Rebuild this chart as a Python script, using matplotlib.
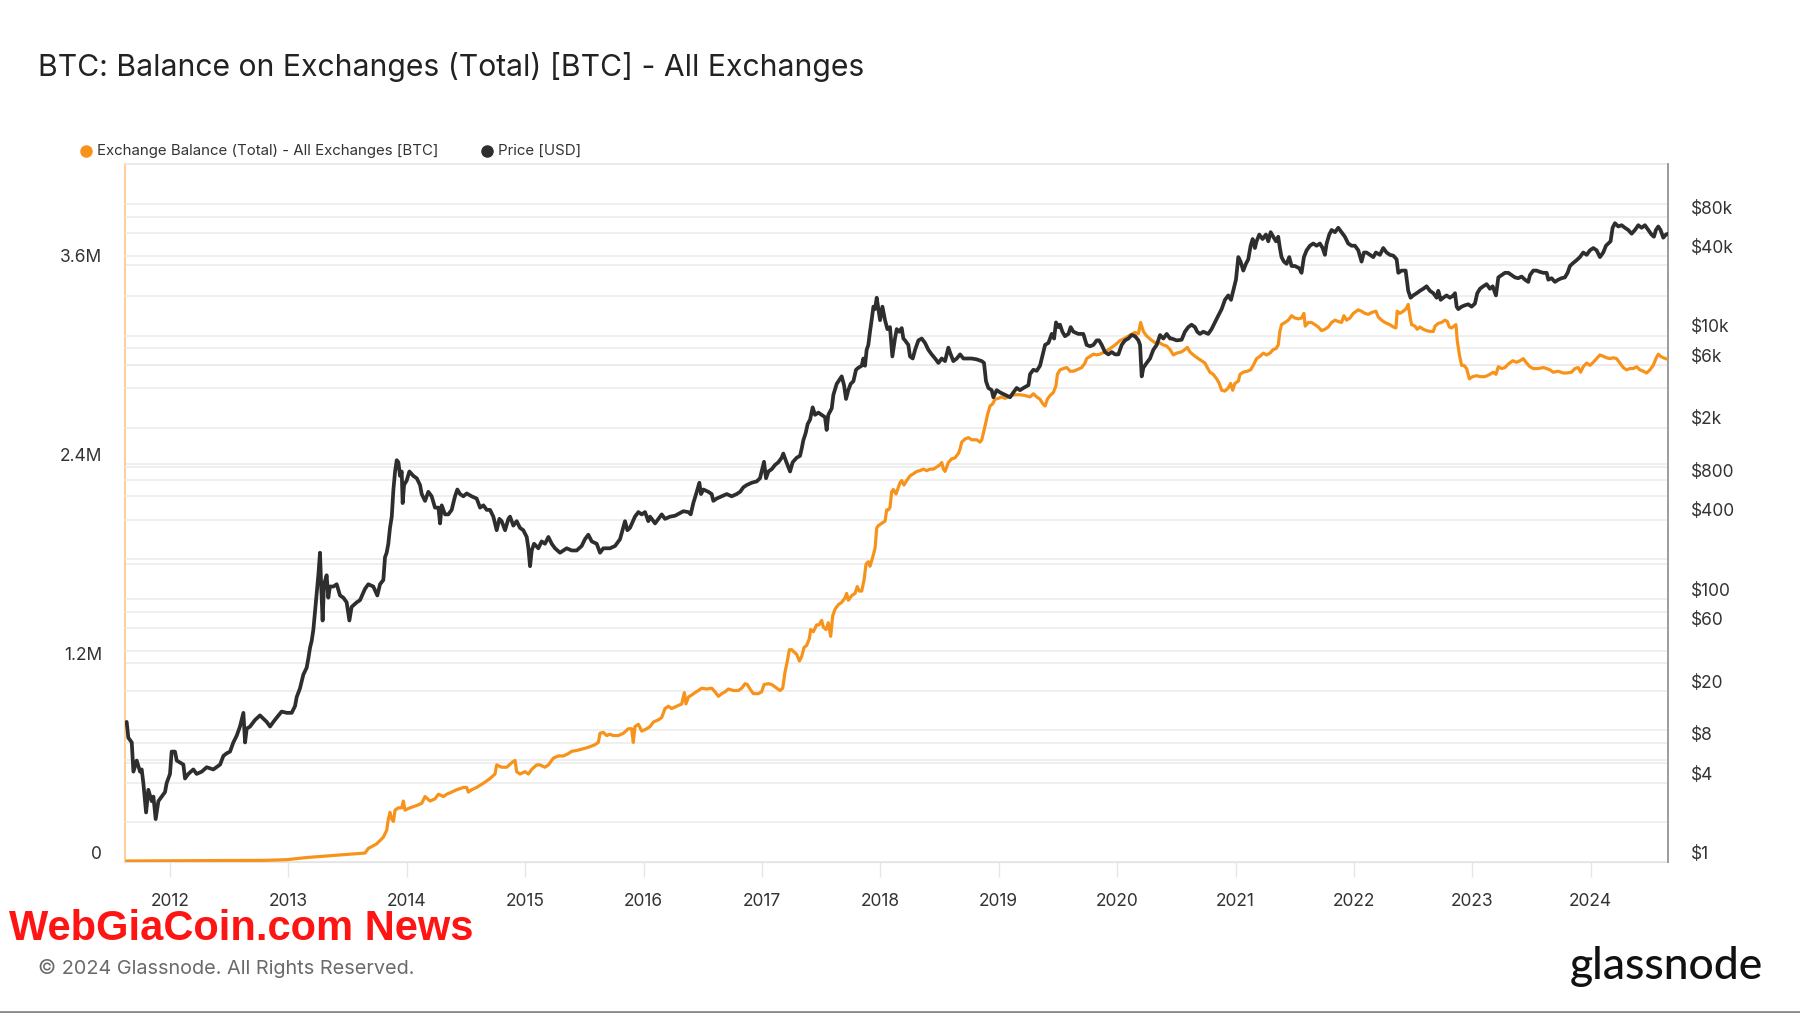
import numpy as np
import matplotlib
matplotlib.use("Agg")
import matplotlib.pyplot as plt
from matplotlib.lines import Line2D

plt.rcParams['font.family'] = ['Inter', 'DejaVu Sans']

# ---------------- data (decimal year, value) ----------------
price_2011_13 = [
    (2011.634, 11.6), (2011.648, 8.8), (2011.677, 8.1), (2011.691, 4.86), (2011.719, 5.9), (2011.747, 4.86),
    (2011.761, 5.05), (2011.775, 3.98), (2011.798, 2.38), (2011.817, 3.54), (2011.845, 2.9), (2011.860, 3.14),
    (2011.879, 2.12), (2011.902, 2.9), (2011.930, 3.14), (2011.958, 3.4), (2011.972, 3.98), (2012.000, 4.67),
    (2012.014, 6.9), (2012.042, 6.9), (2012.057, 5.9), (2012.085, 5.7), (2012.113, 5.5), (2012.127, 4.31),
    (2012.155, 4.67), (2012.197, 5.05), (2012.225, 4.67), (2012.268, 4.86), (2012.310, 5.25), (2012.366, 5.05),
    (2012.423, 5.5), (2012.451, 6.4), (2012.479, 6.7), (2012.507, 6.9), (2012.535, 8.1), (2012.563, 9.1),
    (2012.591, 10.7), (2012.620, 13.6), (2012.634, 8.1), (2012.648, 10.3), (2012.676, 10.7), (2012.718, 12.0),
    (2012.760, 13.0), (2012.817, 11.6), (2012.845, 10.7), (2012.873, 11.6), (2012.901, 12.5), (2012.943, 13.9),
    (2012.986, 13.6), (2013.028, 13.6), (2013.056, 15.3), (2013.070, 17.9), (2013.098, 20.9), (2013.112, 23.6),
    (2013.126, 26.5), (2013.154, 29.9), (2013.168, 35), (2013.183, 42.6), (2013.197, 48), (2013.211, 58.4),
    (2013.225, 80), (2013.239, 110), (2013.253, 151), (2013.267, 224), (2013.275, 139), (2013.289, 68.4),
    (2013.301, 129), (2013.323, 151), (2013.337, 102), (2013.351, 124), (2013.380, 124), (2013.408, 129),
    (2013.436, 106), (2013.464, 102), (2013.492, 94), (2013.515, 68.4), (2013.534, 86.8), (2013.577, 94),
    (2013.605, 97.7), (2013.647, 119), (2013.675, 129), (2013.717, 124), (2013.751, 106), (2013.774, 129),
    (2013.802, 139), (2013.816, 207), (2013.830, 224), (2013.844, 262), (2013.858, 346),
]
price_2014_15 = [
    (2013.873, 421), (2013.887, 677), (2013.901, 928), (2013.915, 1130), (2013.929, 1090), (2013.943, 858),
    (2013.957, 928), (2013.965, 534), (2013.977, 732), (2013.999, 792), (2014.022, 928), (2014.056, 858),
    (2014.084, 824), (2014.112, 732), (2014.126, 625), (2014.154, 555), (2014.182, 650), (2014.210, 601),
    (2014.238, 493), (2014.267, 493), (2014.281, 374), (2014.295, 513), (2014.323, 438), (2014.351, 438),
    (2014.379, 474), (2014.407, 601), (2014.427, 677), (2014.450, 625), (2014.478, 601), (2014.506, 632),
    (2014.548, 601), (2014.590, 578), (2014.619, 493), (2014.647, 513), (2014.675, 474), (2014.703, 474),
    (2014.731, 421), (2014.759, 332), (2014.782, 405), (2014.801, 389), (2014.830, 332), (2014.858, 405),
    (2014.872, 421), (2014.900, 360), (2014.928, 389), (2014.956, 346), (2014.984, 332), (2015.013, 295),
    (2015.027, 242), (2015.041, 177), (2015.055, 233), (2015.075, 262), (2015.111, 242), (2015.139, 273),
    (2015.167, 262), (2015.196, 295), (2015.224, 262), (2015.252, 242), (2015.294, 224), (2015.350, 242),
    (2015.393, 233), (2015.435, 233), (2015.477, 252), (2015.505, 284), (2015.533, 307), (2015.562, 273),
    (2015.604, 262), (2015.632, 224), (2015.660, 242), (2015.716, 242), (2015.759, 252), (2015.801, 284),
    (2015.843, 389), (2015.863, 332), (2015.885, 346), (2015.927, 421), (2015.956, 456), (2015.984, 438),
    (2016.012, 456), (2016.040, 389), (2016.054, 421),
]
price_2016_17 = [
    (2016.069, 405), (2016.097, 374), (2016.125, 405), (2016.153, 438), (2016.181, 405), (2016.223, 421),
    (2016.266, 428), (2016.308, 449), (2016.336, 463), (2016.378, 456), (2016.398, 438), (2016.420, 534),
    (2016.449, 650), (2016.471, 762), (2016.485, 625), (2016.505, 677), (2016.547, 650), (2016.575, 625),
    (2016.589, 555), (2016.617, 578), (2016.660, 601), (2016.702, 625), (2016.744, 601), (2016.786, 625),
    (2016.815, 650), (2016.843, 704), (2016.871, 732), (2016.913, 762), (2016.955, 780), (2016.983, 824),
    (2016.997, 928), (2017.017, 1100), (2017.034, 824), (2017.054, 928), (2017.082, 966), (2017.110, 1040),
    (2017.138, 1090), (2017.166, 1180), (2017.180, 1270), (2017.200, 1130), (2017.223, 1000), (2017.237, 928),
    (2017.259, 1090), (2017.293, 1180), (2017.321, 1220), (2017.335, 1380), (2017.349, 1600), (2017.369, 1820),
    (2017.386, 2130), (2017.406, 2300), (2017.428, 2850), (2017.448, 2500), (2017.476, 2600), (2017.504, 2500),
    (2017.532, 2400), (2017.546, 1920), (2017.560, 2500), (2017.589, 2800), (2017.603, 3550), (2017.631, 4300),
    (2017.659, 4700), (2017.673, 4900), (2017.693, 4200), (2017.710, 3300), (2017.729, 3850), (2017.749, 4300),
    (2017.772, 4500), (2017.794, 5500), (2017.814, 5700), (2017.842, 5900), (2017.856, 6700), (2017.870, 5900),
    (2017.884, 7800), (2017.898, 8500), (2017.912, 10700), (2017.926, 13100), (2017.941, 16600), (2017.955, 15900),
    (2017.969, 19400), (2017.983, 15900), (2017.997, 13100), (2018.017, 16600), (2018.039, 13100), (2018.059, 11200),
    (2018.081, 11600), (2018.101, 6950), (2018.123, 9500), (2018.138, 11200), (2018.160, 10700), (2018.180, 11400),
    (2018.194, 9500), (2018.208, 9200), (2018.236, 8500), (2018.250, 6950),
]
price_2018_19 = [
    (2018.273, 6700), (2018.293, 7800), (2018.321, 9200), (2018.349, 9500), (2018.377, 8800), (2018.405, 7800),
    (2018.433, 7200), (2018.462, 6700), (2018.490, 6200), (2018.518, 6700), (2018.546, 6400), (2018.574, 8100),
    (2018.594, 7200), (2018.616, 6400), (2018.645, 6700), (2018.673, 7200), (2018.701, 6700), (2018.729, 6700),
    (2018.771, 6700), (2018.813, 6600), (2018.856, 6400), (2018.875, 6200), (2018.892, 4500), (2018.912, 4000),
    (2018.940, 3850), (2018.954, 3400), (2018.982, 3850), (2019.011, 3700), (2019.053, 3550), (2019.095, 3400),
    (2019.123, 3700), (2019.151, 4000), (2019.179, 3850), (2019.208, 4000), (2019.250, 4200), (2019.264, 5100),
    (2019.292, 5500), (2019.320, 5400), (2019.348, 5900), (2019.371, 7200), (2019.391, 8500), (2019.419, 8800),
    (2019.447, 10300), (2019.467, 9500), (2019.483, 12600), (2019.503, 11600), (2019.517, 12100), (2019.537, 10700),
    (2019.559, 9900), (2019.588, 10300), (2019.607, 11600), (2019.630, 10700), (2019.672, 10300), (2019.714, 10300),
    (2019.742, 8500), (2019.771, 8300), (2019.799, 8500), (2019.827, 9200), (2019.847, 9200), (2019.869, 8500),
    (2019.897, 7500), (2019.925, 7200), (2019.954, 7500), (2019.982, 7200), (2020.010, 7200), (2020.038, 8500),
    (2020.066, 9200), (2020.094, 9500), (2020.122, 10100), (2020.151, 9900), (2020.179, 9200), (2020.193, 8500),
    (2020.207, 4900), (2020.221, 5700), (2020.249, 6200), (2020.277, 6700), (2020.305, 7800), (2020.334, 8500),
    (2020.362, 10100), (2020.390, 9500), (2020.418, 10300), (2020.446, 9500),
]
price_2020_21 = [
    (2020.460, 9500), (2020.502, 9200), (2020.544, 9300), (2020.572, 10700), (2020.600, 11600), (2020.628, 12100),
    (2020.657, 11600), (2020.676, 10700), (2020.699, 10300), (2020.727, 10700), (2020.769, 10300), (2020.797, 11200),
    (2020.825, 12600), (2020.854, 14200), (2020.882, 15900), (2020.910, 18700), (2020.938, 20200), (2020.961, 18700),
    (2020.980, 21900), (2021.003, 26600), (2021.023, 39500), (2021.042, 36500), (2021.065, 31200), (2021.087, 35100),
    (2021.107, 38000), (2021.127, 48200), (2021.144, 54200), (2021.163, 46300), (2021.177, 52100), (2021.200, 58600),
    (2021.228, 54200), (2021.256, 58600), (2021.276, 52100), (2021.296, 61100), (2021.318, 56400), (2021.341, 52100),
    (2021.360, 56400), (2021.374, 46300), (2021.388, 39500), (2021.408, 36500), (2021.431, 35100), (2021.453, 39500),
    (2021.473, 33800), (2021.501, 33800), (2021.538, 32500), (2021.557, 30000), (2021.577, 39500), (2021.600, 44500),
    (2021.628, 48200), (2021.656, 50100), (2021.684, 48200), (2021.712, 50100), (2021.735, 46300), (2021.754, 41100),
    (2021.769, 50100), (2021.791, 58600), (2021.811, 63500), (2021.839, 61100), (2021.867, 66000), (2021.895, 61100),
    (2021.923, 56400), (2021.951, 50100), (2021.980, 48200), (2022.008, 48200), (2022.036, 44500), (2022.064, 36500),
    (2022.084, 42800), (2022.106, 42800), (2022.134, 41100), (2022.163, 39500), (2022.185, 42800), (2022.219, 41100),
    (2022.247, 46300), (2022.275, 42800), (2022.303, 41100), (2022.332, 40500), (2022.360, 38000), (2022.374, 30000),
    (2022.402, 31200), (2022.436, 31200), (2022.458, 21900), (2022.478, 19400), (2022.500, 20200), (2022.529, 21000),
    (2022.557, 21900), (2022.585, 22700), (2022.613, 23700), (2022.641, 21900),
]
price_2022_24 = [
    (2022.670, 21000), (2022.698, 19400), (2022.712, 21900), (2022.732, 18700), (2022.754, 19400), (2022.782, 20200),
    (2022.810, 19400), (2022.839, 20200), (2022.853, 21000), (2022.867, 16600), (2022.881, 15900), (2022.909, 16600),
    (2022.937, 17000), (2022.965, 17300), (2022.993, 16600), (2023.021, 17500), (2023.041, 21000), (2023.064, 22700),
    (2023.092, 23700), (2023.120, 24600), (2023.148, 22700), (2023.171, 23700), (2023.199, 20200), (2023.219, 27700),
    (2023.247, 28800), (2023.275, 30000), (2023.303, 30000), (2023.331, 28800), (2023.359, 27700), (2023.387, 27300),
    (2023.416, 28100), (2023.444, 26600), (2023.472, 25600), (2023.486, 28800), (2023.514, 31200), (2023.542, 31200),
    (2023.570, 30500), (2023.599, 30000), (2023.627, 30000), (2023.641, 26600), (2023.669, 27300), (2023.697, 25600),
    (2023.725, 26600), (2023.753, 27300), (2023.781, 27700), (2023.804, 30000), (2023.824, 33800), (2023.852, 35700),
    (2023.880, 37400), (2023.908, 39500), (2023.936, 42800), (2023.965, 41100), (2023.993, 44500), (2024.021, 46300),
    (2024.049, 44500), (2024.077, 39500), (2024.105, 42800), (2024.128, 48200), (2024.147, 50100), (2024.167, 52100),
    (2024.184, 66000), (2024.204, 71500), (2024.232, 67500), (2024.260, 69000), (2024.288, 66000), (2024.316, 63500),
    (2024.345, 59500), (2024.373, 63500), (2024.401, 69000), (2024.429, 66000), (2024.457, 69000), (2024.485, 63500),
    (2024.513, 58600), (2024.533, 56400), (2024.550, 63500), (2024.570, 67500), (2024.589, 63500), (2024.612, 55500),
    (2024.634, 58600), (2024.654, 59500),
]

# exchange balance in millions of BTC
balance_2011_13 = [
    (2011.634, 0.006), (2011.900, 0.007), (2012.200, 0.008), (2012.500, 0.009), (2012.800, 0.010),
    (2012.986, 0.014), (2013.154, 0.027), (2013.267, 0.033), (2013.408, 0.041), (2013.549, 0.049),
    (2013.647, 0.054), (2013.675, 0.082), (2013.745, 0.109), (2013.802, 0.150), (2013.830, 0.191),
    (2013.844, 0.259), (2013.858, 0.300),
]
balance_2014_15 = [
    (2013.873, 0.259), (2013.887, 0.245), (2013.901, 0.313), (2013.929, 0.327), (2013.957, 0.327), (2013.971, 0.368),
    (2013.985, 0.313), (2014.027, 0.327), (2014.084, 0.341), (2014.126, 0.354), (2014.154, 0.395), (2014.196, 0.368),
    (2014.238, 0.381), (2014.267, 0.409), (2014.309, 0.395), (2014.337, 0.409), (2014.379, 0.422), (2014.421, 0.436),
    (2014.478, 0.450), (2014.506, 0.450), (2014.520, 0.422), (2014.548, 0.436), (2014.590, 0.450), (2014.619, 0.463),
    (2014.661, 0.482), (2014.703, 0.504), (2014.745, 0.531), (2014.759, 0.586), (2014.801, 0.572), (2014.844, 0.572),
    (2014.886, 0.599), (2014.914, 0.613), (2014.928, 0.545), (2014.956, 0.531), (2014.999, 0.545), (2015.027, 0.531),
    (2015.055, 0.559), (2015.097, 0.586), (2015.125, 0.586), (2015.167, 0.572), (2015.196, 0.586), (2015.224, 0.613),
    (2015.238, 0.627), (2015.280, 0.640), (2015.322, 0.640), (2015.364, 0.654), (2015.393, 0.668), (2015.435, 0.673),
    (2015.477, 0.681), (2015.519, 0.689), (2015.562, 0.700), (2015.590, 0.708), (2015.618, 0.722), (2015.632, 0.777),
    (2015.660, 0.782), (2015.688, 0.763), (2015.716, 0.771), (2015.744, 0.763), (2015.787, 0.763), (2015.829, 0.777),
    (2015.871, 0.804), (2015.899, 0.804), (2015.913, 0.722), (2015.927, 0.817), (2015.956, 0.831), (2015.984, 0.790),
    (2016.026, 0.804), (2016.054, 0.817),
]
balance_2016_17 = [
    (2016.083, 0.845), (2016.125, 0.858), (2016.153, 0.872), (2016.181, 0.926), (2016.209, 0.940), (2016.237, 0.926),
    (2016.280, 0.940), (2016.322, 0.954), (2016.344, 1.022), (2016.358, 0.954), (2016.378, 0.995), (2016.406, 1.008),
    (2016.434, 1.022), (2016.463, 1.035), (2016.491, 1.049), (2016.533, 1.044), (2016.575, 1.049), (2016.603, 1.027),
    (2016.632, 1.000), (2016.660, 1.016), (2016.688, 1.027), (2016.716, 1.044), (2016.758, 1.035), (2016.800, 1.035),
    (2016.829, 1.049), (2016.857, 1.076), (2016.876, 1.071), (2016.899, 1.044), (2016.927, 1.016), (2016.969, 1.016),
    (2016.997, 1.027), (2017.017, 1.071), (2017.054, 1.076), (2017.082, 1.071), (2017.124, 1.049), (2017.152, 1.035),
    (2017.175, 1.049), (2017.194, 1.144), (2017.214, 1.213), (2017.231, 1.281), (2017.251, 1.281), (2017.271, 1.267),
    (2017.293, 1.253), (2017.316, 1.213), (2017.335, 1.240), (2017.355, 1.294), (2017.378, 1.308), (2017.400, 1.349),
    (2017.411, 1.403), (2017.434, 1.390), (2017.462, 1.431), (2017.482, 1.431), (2017.504, 1.458), (2017.518, 1.417),
    (2017.541, 1.403), (2017.560, 1.444), (2017.580, 1.362), (2017.597, 1.485), (2017.617, 1.526), (2017.645, 1.553),
    (2017.673, 1.567), (2017.701, 1.594), (2017.715, 1.621), (2017.729, 1.580), (2017.758, 1.608), (2017.786, 1.621),
    (2017.805, 1.662), (2017.822, 1.635), (2017.842, 1.635), (2017.862, 1.703), (2017.879, 1.798), (2017.898, 1.812),
    (2017.912, 1.785), (2017.935, 1.839), (2017.955, 1.894), (2017.969, 2.016), (2017.983, 2.030), (2018.011, 2.044),
    (2018.039, 2.057), (2018.053, 2.125), (2018.067, 2.125), (2018.081, 2.139), (2018.095, 2.234), (2018.109, 2.248),
    (2018.132, 2.221), (2018.152, 2.262), (2018.166, 2.289), (2018.180, 2.302), (2018.199, 2.275), (2018.222, 2.302),
    (2018.236, 2.316), (2018.250, 2.330),
]
balance_2018_19 = [
    (2018.279, 2.343), (2018.307, 2.357), (2018.335, 2.362), (2018.363, 2.371), (2018.391, 2.362), (2018.419, 2.371),
    (2018.448, 2.371), (2018.476, 2.384), (2018.504, 2.398), (2018.518, 2.411), (2018.532, 2.371), (2018.546, 2.357),
    (2018.574, 2.411), (2018.602, 2.433), (2018.630, 2.439), (2018.659, 2.466), (2018.673, 2.493), (2018.687, 2.534),
    (2018.715, 2.553), (2018.743, 2.561), (2018.771, 2.548), (2018.813, 2.548), (2018.842, 2.534), (2018.856, 2.548),
    (2018.870, 2.589), (2018.892, 2.657), (2018.904, 2.698), (2018.926, 2.752), (2018.949, 2.766), (2018.968, 2.793),
    (2018.996, 2.798), (2019.025, 2.807), (2019.053, 2.798), (2019.081, 2.807), (2019.109, 2.815), (2019.137, 2.820),
    (2019.179, 2.820), (2019.222, 2.815), (2019.264, 2.807), (2019.292, 2.826), (2019.320, 2.807), (2019.348, 2.793),
    (2019.371, 2.766), (2019.391, 2.752), (2019.410, 2.793), (2019.433, 2.815), (2019.461, 2.834), (2019.483, 2.875),
    (2019.495, 2.943), (2019.517, 2.970), (2019.545, 2.978), (2019.574, 2.984), (2019.602, 2.962), (2019.630, 2.962),
    (2019.658, 2.970), (2019.700, 2.984), (2019.728, 3.011), (2019.742, 3.038), (2019.771, 3.052), (2019.799, 3.065),
    (2019.827, 3.060), (2019.855, 3.065), (2019.897, 3.079), (2019.939, 3.098), (2019.982, 3.120), (2020.024, 3.147),
    (2020.066, 3.161), (2020.108, 3.180), (2020.151, 3.196), (2020.179, 3.188), (2020.198, 3.256), (2020.221, 3.202),
    (2020.249, 3.174), (2020.283, 3.153), (2020.319, 3.134), (2020.356, 3.134), (2020.390, 3.120), (2020.418, 3.114),
    (2020.446, 3.093),
]
balance_2020_21 = [
    (2020.474, 3.060), (2020.502, 3.071), (2020.544, 3.079), (2020.572, 3.093), (2020.592, 3.106), (2020.614, 3.079),
    (2020.643, 3.060), (2020.685, 3.038), (2020.713, 3.025), (2020.741, 3.011), (2020.761, 2.984), (2020.783, 2.956),
    (2020.811, 2.943), (2020.840, 2.916), (2020.862, 2.888), (2020.882, 2.847), (2020.910, 2.842), (2020.938, 2.861),
    (2020.958, 2.888), (2020.975, 2.847), (2020.994, 2.888), (2021.023, 2.902), (2021.037, 2.943), (2021.065, 2.956),
    (2021.099, 2.962), (2021.127, 2.970), (2021.149, 2.997), (2021.177, 3.038), (2021.206, 3.052), (2021.234, 3.071),
    (2021.262, 3.060), (2021.290, 3.071), (2021.318, 3.093), (2021.341, 3.098), (2021.360, 3.120), (2021.374, 3.202),
    (2021.388, 3.243), (2021.417, 3.256), (2021.445, 3.270), (2021.473, 3.297), (2021.501, 3.283), (2021.529, 3.278),
    (2021.557, 3.283), (2021.577, 3.311), (2021.588, 3.234), (2021.614, 3.256), (2021.642, 3.256), (2021.670, 3.243),
    (2021.698, 3.229), (2021.726, 3.207), (2021.754, 3.215), (2021.783, 3.229), (2021.811, 3.256), (2021.839, 3.270),
    (2021.867, 3.262), (2021.895, 3.256), (2021.915, 3.297), (2021.937, 3.270), (2021.966, 3.283), (2021.994, 3.311),
    (2022.036, 3.332), (2022.064, 3.324), (2022.092, 3.311), (2022.120, 3.305), (2022.148, 3.316), (2022.185, 3.324),
    (2022.205, 3.289), (2022.233, 3.270), (2022.261, 3.256), (2022.303, 3.243), (2022.332, 3.229), (2022.354, 3.223),
    (2022.365, 3.324), (2022.388, 3.311), (2022.416, 3.324), (2022.439, 3.338), (2022.458, 3.365), (2022.472, 3.297),
    (2022.486, 3.243), (2022.515, 3.234), (2022.534, 3.215), (2022.557, 3.229), (2022.585, 3.215), (2022.613, 3.207),
    (2022.641, 3.202),
]
balance_2022_24 = [
    (2022.670, 3.202), (2022.684, 3.234), (2022.712, 3.251), (2022.740, 3.256), (2022.768, 3.270), (2022.788, 3.262),
    (2022.805, 3.229), (2022.824, 3.223), (2022.844, 3.234), (2022.861, 3.243), (2022.872, 3.147), (2022.889, 3.065),
    (2022.909, 2.997), (2022.929, 2.997), (2022.951, 2.978), (2022.974, 2.916), (2023.002, 2.929), (2023.036, 2.935),
    (2023.064, 2.929), (2023.106, 2.929), (2023.148, 2.943), (2023.176, 2.956), (2023.199, 2.943), (2023.219, 2.989),
    (2023.247, 2.978), (2023.275, 2.984), (2023.303, 3.005), (2023.340, 3.025), (2023.373, 3.016), (2023.402, 3.025),
    (2023.430, 3.038), (2023.458, 3.011), (2023.486, 2.989), (2023.514, 2.978), (2023.556, 2.978), (2023.599, 2.984),
    (2023.627, 2.978), (2023.655, 2.970), (2023.683, 2.956), (2023.725, 2.962), (2023.767, 2.951), (2023.796, 2.951),
    (2023.838, 2.956), (2023.866, 2.978), (2023.894, 2.984), (2023.914, 2.956), (2023.936, 2.989), (2023.965, 3.011),
    (2023.993, 2.997), (2024.021, 3.016), (2024.049, 3.038), (2024.077, 3.060), (2024.105, 3.052), (2024.133, 3.043),
    (2024.161, 3.038), (2024.190, 3.043), (2024.218, 3.038), (2024.246, 3.011), (2024.274, 2.984), (2024.302, 2.970),
    (2024.330, 2.978), (2024.359, 2.978), (2024.387, 2.989), (2024.415, 2.970), (2024.443, 2.962), (2024.471, 2.951),
    (2024.499, 2.970), (2024.527, 2.997), (2024.550, 3.038), (2024.570, 3.065), (2024.589, 3.052), (2024.612, 3.043),
    (2024.634, 3.038), (2024.654, 3.033),
]

year_ticks = list(range(2012, 2025))
left_grid_m = [0, 0.6, 1.2, 1.8, 2.4, 3.0, 3.6]
left_label_m = [0, 1.2, 2.4, 3.6]
left_label_txt = ['0', '1.2M', '2.4M', '3.6M']
right_grid = [1, 2, 4, 6, 8, 10, 20, 40, 60, 80, 100, 200, 400, 600, 800,
              1000, 2000, 4000, 6000, 8000, 10000, 20000, 40000, 60000, 80000, 100000]
right_label_vals = [1, 4, 8, 20, 60, 100, 400, 800, 2000, 6000, 10000, 40000, 80000]
right_label_txt = ['$1', '$4', '$8', '$20', '$60', '$100', '$400', '$800',
                   '$2k', '$6k', '$10k', '$40k', '$80k']

title = "BTC: Balance on Exchanges (Total) [BTC] - All Exchanges"
legend_balance = "Exchange Balance (Total) - All Exchanges [BTC]"
legend_price = "Price [USD]"

# ---------------- assemble ----------------
price_pts = price_2011_13 + price_2014_15 + price_2016_17 + price_2018_19 + price_2020_21 + price_2022_24
bal_pts = balance_2011_13 + balance_2014_15 + balance_2016_17 + balance_2018_19 + balance_2020_21 + balance_2022_24
px = np.array([p[0] for p in price_pts]); py = np.array([p[1] for p in price_pts])
bx = np.array([p[0] for p in bal_pts]); by = np.array([p[1] for p in bal_pts]) * 1e6

ORANGE = '#F7931A'
BLACK = '#2e2e2e'
GRID = '#ececec'
TXT = '#333333'

W, H = 1800, 1013
fig = plt.figure(figsize=(W / 100, H / 100), dpi=100)
rect = [125 / W, 1 - 862 / H, (1668 - 125) / W, (862 - 164) / H]
axL = fig.add_axes(rect)
axR = axL.twinx()
axO = axL.twinx()
axB = axL.twinx()

XMIN, XMAX = 2011.620, 2024.652
YL = (0, 4.2124e6)
YR = (1, 2.014e5)

for a in (axL, axR, axO, axB):
    a.set_xlim(XMIN, XMAX)
    a.patch.set_visible(False)
    for s in a.spines.values():
        s.set_visible(False)

axL.set_ylim(*YL)
axO.set_ylim(*YL)
axR.set_yscale('log'); axB.set_yscale('log')
axR.set_ylim(*YR); axB.set_ylim(*YR)

# left grid
axL.set_yticks([v * 1e6 for v in left_grid_m])
axL.tick_params(axis='y', left=False, labelleft=False)
axL.grid(True, axis='y', color=GRID, linewidth=1.2)
axL.set_axisbelow(True)
# right grid
axR.set_yticks(right_grid)
axR.yaxis.set_minor_locator(matplotlib.ticker.NullLocator())
axR.tick_params(axis='y', which='both', right=False, labelright=False, left=False, labelleft=False)
axR.grid(True, axis='y', which='major', color=GRID, linewidth=1.2)

# x axis
axL.set_xticks(year_ticks)
axL.set_xticklabels([str(y) for y in year_ticks])
axL.tick_params(axis='x', length=11, width=1, color='#e6e6e6', pad=11,
                labelsize=12.5, labelcolor=TXT)
for a in (axR, axO, axB):
    a.tick_params(axis='both', which='both', left=False, right=False, bottom=False, top=False,
                  labelleft=False, labelright=False, labelbottom=False)

# spines
axL.spines['top'].set_visible(True); axL.spines['top'].set_color('#e8e8e8'); axL.spines['top'].set_linewidth(1.2)
axL.spines['bottom'].set_visible(True); axL.spines['bottom'].set_color('#e2e2e2'); axL.spines['bottom'].set_linewidth(1.5)
axL.spines['left'].set_visible(True); axL.spines['left'].set_color('#FCCF9C'); axL.spines['left'].set_linewidth(1.5)
axR.spines['right'].set_visible(True); axR.spines['right'].set_color('#9c9c9c'); axR.spines['right'].set_linewidth(1.4)

# data
axO.plot(bx, by, color=ORANGE, linewidth=2.3, solid_joinstyle='round', solid_capstyle='round')
axB.plot(px, py, color=BLACK, linewidth=2.7, solid_joinstyle='round', solid_capstyle='round')

# y labels (sit slightly above their grid lines)
for v, t in zip(left_label_m, left_label_txt):
    axL.annotate(t, xy=(0, v * 1e6), xycoords=axL.get_yaxis_transform(),
                 xytext=(-16.5, 5.5), textcoords='offset points', ha='right', va='center',
                 fontsize=12.5, color=TXT, annotation_clip=False)
for v, t in zip(right_label_vals, right_label_txt):
    axR.annotate(t, xy=(1, v), xycoords=axR.get_yaxis_transform(),
                 xytext=(16.5, 5.5), textcoords='offset points', ha='left', va='center',
                 fontsize=12.5, color=TXT, annotation_clip=False)

# title
fig.text(38 / W, 1 - 66.5 / H, title, fontsize=21.7, color='#222222', ha='left', va='center')

# legend
fig.add_artist(Line2D([86 / W], [1 - 151 / H], marker='o', markersize=8, color=ORANGE,
                      linestyle='none', transform=fig.transFigure))
fig.text(97 / W, 1 - 151 / H, legend_balance, fontsize=10.8, color=TXT, ha='left', va='center')
fig.add_artist(Line2D([487 / W], [1 - 151 / H], marker='o', markersize=8, color=BLACK,
                      linestyle='none', transform=fig.transFigure))
fig.text(498 / W, 1 - 151 / H, legend_price, fontsize=10.8, color=TXT, ha='left', va='center')

# watermark + footer
fig.text(9 / W, 1 - 929 / H, "WebGiaCoin.com News", fontsize=30, color='#FF1414',
         fontweight='bold', family=['Liberation Sans', 'DejaVu Sans'], ha='left', va='center')
fig.text(38 / W, 1 - 968 / H, "\u00a9 2024 Glassnode. All Rights Reserved.", fontsize=14.3,
         color='#6a6a6a', ha='left', va='center')
fig.text(1763 / W, 1 - 966 / H, "glassnode", fontsize=32, color='#111111',
         family=['Lato', 'DejaVu Sans'], fontweight='medium', ha='right', va='center')
fig.add_artist(Line2D([0, 1], [1 - 1011.5 / H, 1 - 1011.5 / H], color='#8a8a8a', linewidth=2,
                      transform=fig.transFigure))

fig.savefig("out.png", dpi=100, facecolor='white')
